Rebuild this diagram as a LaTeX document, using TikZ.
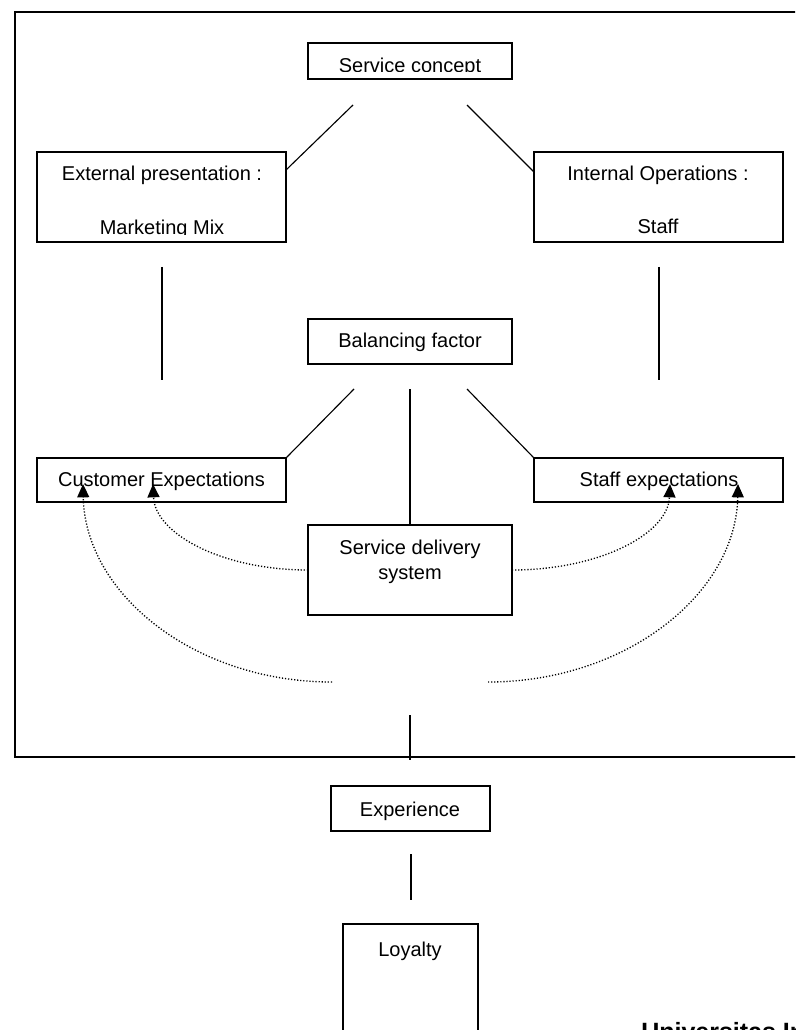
\documentclass[tikz,border=0pt]{standalone}
\usepackage{fontspec}
\setmainfont{Liberation Sans}
\usetikzlibrary{fit,arrows.meta}

\begin{document}
\begin{tikzpicture}[x=0.75pt,y=-0.75pt,
  box/.style={draw, line width=1.1pt, inner sep=0pt},
  lbl/.style={anchor=base, inner sep=0pt, font=\fontsize{15}{18}\selectfont},
  link/.style={line width=0.85pt},
  flow/.style={line width=1pt, dash pattern=on 0.9pt off 1.4pt,
               -{Triangle[length=10pt,width=9pt]}}
]
\useasboundingbox (0,0) rectangle (795,1030);
\clip (0,0) rectangle (795,1030);

% outer frame (runs past the right edge)
\node[box, fit={(15,12) (830,757)}] (frame) {};

% boxes
\node[box, fit={(308,43) (512,79)}]   (sc)    {};
\node[box, fit={(37,152) (286,242)}]  (ext)   {};
\node[box, fit={(534,152) (783,242)}] (int)   {};
\node[box, fit={(308,319) (512,364)}] (bal)   {};
\node[box, fit={(37,458) (286,502)}]  (cust)  {};
\node[box, fit={(534,458) (783,502)}] (staff) {};
\node[box, fit={(308,525) (512,615)}] (sds)   {};
\node[box, fit={(331,786) (490,831)}] (exp)   {};
\node[box, fit={(343,924) (478,1060)}] (loy)  {};

% labels
\begin{scope}
  \clip (308,43) rectangle (512,72);
  \node[lbl] (sc-t) at (410,72.3) {Service concept};
\end{scope}
\node[lbl] (ext-t1) at (162,180.5) {External presentation :};
\begin{scope}
  \clip (37,152) rectangle (286,234.5);
  \node[lbl] (ext-t2) at (162,234.3) {Marketing Mix};
\end{scope}
\node[lbl] (int-t1) at (658,180.5) {Internal Operations :};
\node[lbl] (int-t2) at (658,233.5) {Staff};
\node[lbl] (bal-t) at (410,347.5) {Balancing factor};
\node[lbl] (cust-t) at (161.5,486.5) {Customer Expectations};
\node[lbl] (staff-t) at (659,486.5) {Staff expectations};
\node[lbl] (sds-t1) at (410,554) {Service delivery};
\node[lbl] (sds-t2) at (410,579) {system};
\node[lbl] (exp-t) at (410,816) {Experience};
\node[lbl] (loy-t) at (410,956) {Loyalty};
\node[anchor=base west, inner sep=0pt, font=\fontsize{18.75}{22}\selectfont\bfseries]
  (univ) at (641,1040) {Universitas Indonesia};

% solid connectors
\coordinate (sc-l)  at (353,105);
\coordinate (sc-r)  at (467,105);
\coordinate (ext-c) at (286,170);
\coordinate (int-c) at (534,172);
\draw[link] (sc-l) -- (ext-c);
\draw[link] (sc-r) -- (int-c);

\coordinate (ext-a) at (162,267);
\coordinate (ext-b) at (162,380);
\coordinate (int-a) at (659,267);
\coordinate (int-b) at (659,380);
\draw[link] (ext-a) -- (ext-b);
\draw[link] (int-a) -- (int-b);

\coordinate (bal-l) at (354,389);
\coordinate (bal-m) at (410,389);
\coordinate (bal-r) at (467,389);
\draw[link] (bal-l) -- (cust.north east);
\draw[link] (bal-r) -- (staff.north west);
\draw[link] (bal-m) -- (sds.north);

\coordinate (out-a) at (410,715);
\coordinate (out-b) at (410,760);
\draw[link] (out-a) -- (out-b);

\coordinate (exp-a) at (411,854);
\coordinate (exp-b) at (411,900);
\draw[link] (exp-a) -- (exp-b);

% dotted feedback arcs
\coordinate (in-l)   at (308,570);
\coordinate (in-r)   at (512,570);
\coordinate (cust-i) at (153,484);
\coordinate (staff-i) at (670,484);
\coordinate (o-l)    at (332,682);
\coordinate (o-r)    at (488,682);
\coordinate (cust-o) at (83,484);
\coordinate (staff-o) at (738,484);

\draw[flow] (in-l) .. controls (222.4,570) and (155,534) .. (cust-i);
\draw[flow] (in-r) .. controls (599.3,570) and (668,534) .. (staff-i);
\draw[flow] (o-l) .. controls (194.5,682) and (85,593.8) .. (cust-o);
\draw[flow] (o-r) .. controls (626,682) and (736,593.8) .. (staff-o);
\end{tikzpicture}
\end{document}
